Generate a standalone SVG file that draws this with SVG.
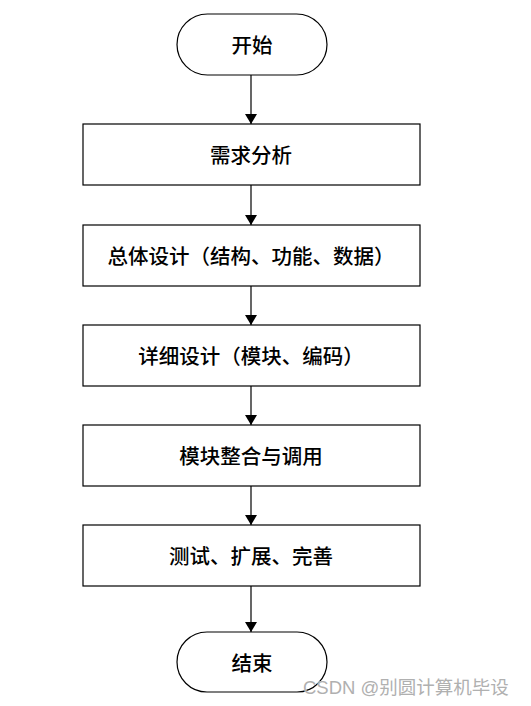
<svg xmlns="http://www.w3.org/2000/svg" width="531" height="706" viewBox="0 0 531 706">
<style>
.box{fill:#fff;stroke:#000;stroke-width:1.2}
.t{font-family:"Noto Sans CJK SC","Noto Sans CJK JP",sans-serif;font-size:20.5px;font-weight:500;fill:#000;text-anchor:middle;dominant-baseline:central}
.c{stroke:#000;stroke-width:1.2;fill:none;marker-end:url(#ah)}
.wm{font-family:"Liberation Sans","Noto Sans CJK SC",sans-serif;font-size:18.5px;fill:#b0b0b0;stroke:#fff;stroke-width:0.4;paint-order:stroke}
</style>
<defs>
<marker id="ah" markerWidth="10" markerHeight="12" refX="10" refY="6" orient="auto" markerUnits="userSpaceOnUse">
<path d="M0,0 L10,6 L0,12 z" fill="#000"/>
</marker>
</defs>
<rect width="531" height="706" fill="#fff"/>
<g id="connectors">
<line class="c" x1="251" y1="75" x2="251" y2="124"/>
<line class="c" x1="251" y1="185" x2="251" y2="225"/>
<line class="c" x1="251" y1="286" x2="251" y2="325"/>
<line class="c" x1="251" y1="386" x2="251" y2="425"/>
<line class="c" x1="251" y1="486" x2="251" y2="525"/>
<line class="c" x1="251" y1="586" x2="251" y2="632"/>
</g>
<g id="start"><rect class="box" x="177" y="14" width="150" height="61" rx="30.5"/><text class="t" x="252" y="44">开始</text></g>
<g id="n1"><rect class="box" x="83" y="124" width="337" height="61"/><text class="t" x="251" y="154">需求分析</text></g>
<g id="n2"><rect class="box" x="83" y="225" width="337" height="61"/><text class="t" x="251" y="255">总体设计（结构、功能、数据）</text></g>
<g id="n3"><rect class="box" x="83" y="325" width="337" height="61"/><text class="t" x="251" y="355">详细设计（模块、编码）</text></g>
<g id="n4"><rect class="box" x="83" y="425" width="337" height="61"/><text class="t" x="251" y="455">模块整合与调用</text></g>
<g id="n5"><rect class="box" x="83" y="525" width="337" height="61"/><text class="t" x="251" y="555">测试、扩展、完善</text></g>
<g id="end"><rect class="box" x="177" y="632" width="150" height="60" rx="30"/><text class="t" x="252" y="661.5">结束</text></g>
<text class="wm" x="303" y="694">CSDN @别圆计算机毕设</text>
</svg>
